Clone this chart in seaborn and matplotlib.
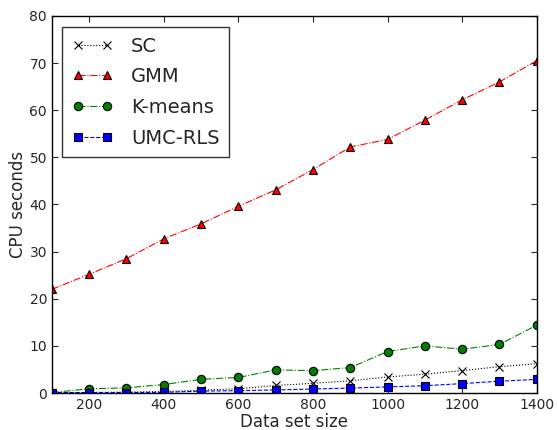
"""
CPU time vs data set size for four clustering methods.
"""

import matplotlib
matplotlib.use("Agg")
import matplotlib.pyplot as plt
import seaborn as sns

# data
sizes = [100, 200, 300, 400, 500, 600, 700, 800, 900, 1000, 1100, 1200, 1300, 1400]
sc = [0.1, 0.1, 0.2, 0.3, 0.6, 0.9, 1.6, 2.05, 2.6, 3.4, 4.0, 4.75, 5.6, 6.2]
gmm = [22.0, 25.2, 28.5, 32.7, 35.9, 39.6, 43.1, 47.4, 52.2, 53.8, 57.9, 62.2, 66.0, 70.5]
kmeans = [0.1, 0.9, 1.1, 1.8, 2.9, 3.3, 4.9, 4.75, 5.4, 8.8, 10.0, 9.3, 10.3, 14.4]
umc_rls = [0.1, 0.1, 0.1, 0.15, 0.4, 0.5, 0.65, 0.85, 1.05, 1.3, 1.55, 2.0, 2.5, 2.9]

sns.set_style("ticks")
plt.rcParams["font.family"] = ["DejaVu Sans"]
plt.rcParams["xtick.direction"] = "in"
plt.rcParams["ytick.direction"] = "in"

fig = plt.figure(figsize=(5.58, 4.3), dpi=100)
ax = fig.add_axes([0.093, 0.086, 0.869, 0.877])

series = [
    ("SC", sc, "k", ":", "x"),
    ("GMM", gmm, "r", "-.", "^"),
    ("K-means", kmeans, "g", "-.", "o"),
    ("UMC-RLS", umc_rls, "b", "--", "s"),
]
for name, vals, col, ls, mk in series:
    sns.lineplot(x=sizes, y=vals, ax=ax, color=col, linestyle=ls, marker=mk,
                 markersize=6, markeredgecolor="k", markeredgewidth=0.8,
                 linewidth=0.8, label=name)

ax.set_xlim(100, 1400)
ax.set_ylim(0, 80)
ax.set_xticks(range(200, 1401, 200))
ax.set_yticks(range(0, 81, 10))
ax.tick_params(labelsize=10, top=True, right=True, length=4, width=0.8)
for s in ax.spines.values():
    s.set_linewidth(1.0)
    s.set_color("black")
ax.set_xlabel("Data set size", fontsize=12, labelpad=1)
ax.set_ylabel("CPU seconds", fontsize=12, labelpad=2)

leg = ax.legend(loc="upper left", bbox_to_anchor=(0.021, 0.971), borderaxespad=0,
                fontsize=14, frameon=True, fancybox=False, edgecolor="black",
                numpoints=2, handlelength=2.1, handletextpad=0.95,
                labelspacing=0.6, borderpad=0.5)
leg.get_frame().set_linewidth(1.0)

plt.savefig("out.png", dpi=100)
